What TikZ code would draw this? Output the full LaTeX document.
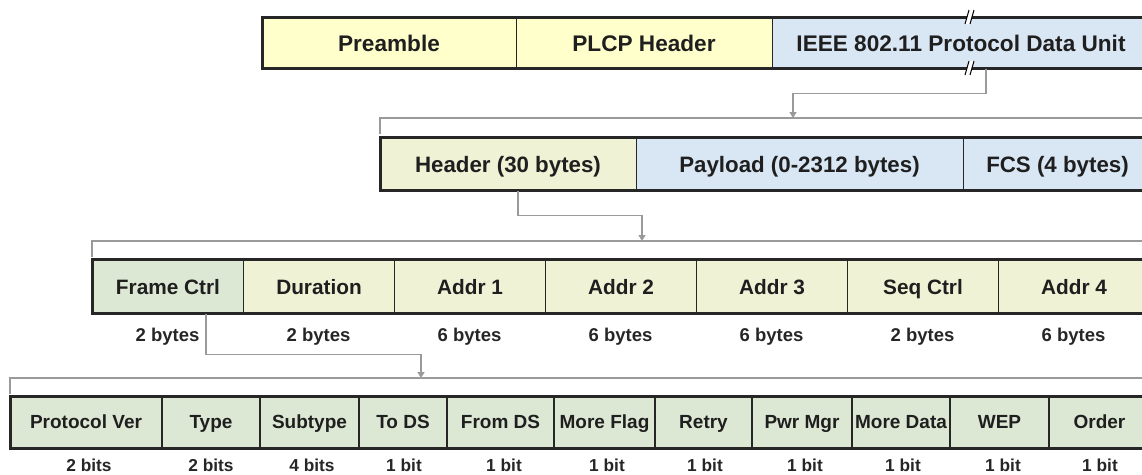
\documentclass[tikz,border=0pt]{standalone}
\usepackage{fontspec}
\setmainfont{Liberation Sans}
\usepackage{xcolor}
\usepackage{tikz}
\usetikzlibrary{arrows.meta}
\definecolor{plcpyellow}{HTML}{FFFFCC}
\definecolor{pdublue}{HTML}{D9E6F4}
\definecolor{hdrolive}{HTML}{EFF2D5}
\definecolor{ctrlgreen}{HTML}{DDE8D4}
\definecolor{linkgray}{HTML}{9A9A9A}

\begin{document}
\begin{tikzpicture}[x=1pt, y=-1pt,
    field/.style={draw=black!85, line width=1pt, inner sep=0pt, outer sep=0pt, text=black!88, text depth=0pt},
    bigfield/.style={field, minimum height=51pt, text height=16.3pt, font=\bfseries\fontsize{22.6}{26}\selectfont},
    macfield/.style={field, minimum height=53pt, text height=16pt, font=\bfseries\fontsize{22.3}{26}\selectfont},
    hdrfield/.style={field, line width=1.3pt, minimum height=54pt, minimum width=151pt, text height=15pt, font=\bfseries\fontsize{20.8}{24}\selectfont},
    bitfield/.style={field, line width=1.3pt, fill=ctrlgreen, minimum height=52pt, text height=13.7pt, font=\bfseries\fontsize{19}{22}\selectfont},
    outline/.style={draw=black!85, line width=3pt},
    link/.style={draw=linkgray, line width=1.6pt},
    bytesize/.style={inner sep=1pt, text height=13.3pt, text depth=0pt, font=\bfseries\fontsize{18.5}{21}\selectfont, text=black!85},
    bitsize/.style={inner sep=1pt, text height=12.5pt, text depth=0pt, font=\bfseries\fontsize{17.3}{20}\selectfont, text=black!85}]
    \useasboundingbox (0,0) rectangle (1142,474);
    \clip (0,0) rectangle (1142,474);

    \node [bigfield, fill=plcpyellow, minimum width=254pt] (preamble) at (389, 43) {Preamble};
    \node [bigfield, fill=plcpyellow, minimum width=256pt] (plcp) at (644, 43) {PLCP Header};
    \node [bigfield, fill=pdublue, minimum width=378pt] (pdu) at (961, 43) {IEEE 802.11 Protocol Data Unit};
    \draw [outline] (262, 17.5) rectangle (1150, 68.5);
    \fill [white] (965, 24) -- (969, 10) -- (974, 10) -- (970, 24) -- cycle;
    \draw [line width=1pt] (965, 24) -- (969, 10) (970, 24) -- (974, 10);
    \fill [white] (965, 75) -- (969, 61) -- (974, 61) -- (970, 75) -- cycle;
    \draw [line width=1pt] (965, 75) -- (969, 61) (970, 75) -- (974, 61);

    \coordinate (macgroup) at (793, 118);
    \draw [link] (380, 134) |- (1150, 118);
    \draw [link, -{Triangle[width=7pt, length=6pt]}] ([xshift=25pt]pdu.south) -- ++(0, 25) -| (macgroup);

    \node [macfield, fill=hdrolive, minimum width=256pt] (header) at (508, 164) {Header (30 bytes)};
    \node [macfield, fill=pdublue, minimum width=327pt] (payload) at (799.5, 164) {Payload (0-2312 bytes)};
    \node [macfield, fill=pdublue, minimum width=189pt] (fcs) at (1057.5, 164) {FCS (4 bytes)};
    \draw [outline] (380, 137) rectangle (1152, 190);

    \coordinate (hdrgroup) at (642, 241);
    \draw [link] (92, 257) |- (1150, 241);
    \draw [link, -{Triangle[width=7pt, length=6pt]}] ([xshift=10pt]header.south) -- ++(0, 25) -| (hdrgroup);

    \node [hdrfield, fill=ctrlgreen] (framectrl) at (168, 286.5) {Frame Ctrl};
    \node [hdrfield, fill=hdrolive] (duration) at (319, 286.5) {Duration};
    \node [hdrfield, fill=hdrolive] (addra) at (470, 286.5) {Addr 1};
    \node [hdrfield, fill=hdrolive] (addrb) at (621, 286.5) {Addr 2};
    \node [hdrfield, fill=hdrolive] (addrc) at (772, 286.5) {Addr 3};
    \node [hdrfield, fill=hdrolive] (seqctrl) at (923, 286.5) {Seq Ctrl};
    \node [hdrfield, fill=hdrolive] (addrd) at (1074, 286.5) {Addr 4};
    \draw [outline] (92, 259) rectangle (1150, 313);
    \node [bytesize] (framectrlsize) at (167.5, 335) {2 bytes};
    \node [bytesize] (durationsize) at (318.5, 335) {2 bytes};
    \node [bytesize] (addrasize) at (469.5, 335) {6 bytes};
    \node [bytesize] (addrbsize) at (620.5, 335) {6 bytes};
    \node [bytesize] (addrcsize) at (771.5, 335) {6 bytes};
    \node [bytesize] (seqctrlsize) at (922.5, 335) {2 bytes};
    \node [bytesize] (addrdsize) at (1073.5, 335) {6 bytes};

    \coordinate (ctrlgroup) at (421, 378);
    \draw [link] (10, 394) |- (1150, 378);
    \draw [link, -{Triangle[width=7pt, length=6pt]}] ([xshift=38pt]framectrl.south) -- ++(0, 41) -| (ctrlgroup);

    \node [bitfield, minimum width=152pt] (protover) at (86, 422) {Protocol Ver};
    \node [bitfield, minimum width=98pt] (type) at (211, 422) {Type};
    \node [bitfield, minimum width=99pt] (subtype) at (309.5, 422) {Subtype};
    \node [bitfield, minimum width=88pt] (tods) at (403, 422) {To DS};
    \node [bitfield, minimum width=107pt] (fromds) at (500.5, 422) {From DS};
    \node [bitfield, minimum width=101pt] (moreflag) at (604.5, 422) {More Flag};
    \node [bitfield, minimum width=97pt] (retry) at (703.5, 422) {Retry};
    \node [bitfield, minimum width=100pt] (pwrmgr) at (802, 422) {Pwr Mgr};
    \node [bitfield, minimum width=98pt] (moredata) at (901, 422) {More Data};
    \node [bitfield, minimum width=99pt] (wep) at (999.5, 422) {WEP};
    \node [bitfield, minimum width=101pt] (order) at (1099.5, 422) {Order};
    \draw [outline] (10, 396) rectangle (1150, 448);
    \node [bitsize] (protoversize) at (89, 465) {2 bits};
    \node [bitsize] (typesize) at (211, 465) {2 bits};
    \node [bitsize] (subtypesize) at (312, 465) {4 bits};
    \node [bitsize] (todssize) at (404, 465) {1 bit};
    \node [bitsize] (fromdssize) at (504, 465) {1 bit};
    \node [bitsize] (moreflagsize) at (607, 465) {1 bit};
    \node [bitsize] (retrysize) at (705, 465) {1 bit};
    \node [bitsize] (pwrmgrsize) at (805, 465) {1 bit};
    \node [bitsize] (moredatasize) at (903, 465) {1 bit};
    \node [bitsize] (wepsize) at (1003, 465) {1 bit};
    \node [bitsize] (ordersize) at (1100, 465) {1 bit};
\end{tikzpicture}
\end{document}
